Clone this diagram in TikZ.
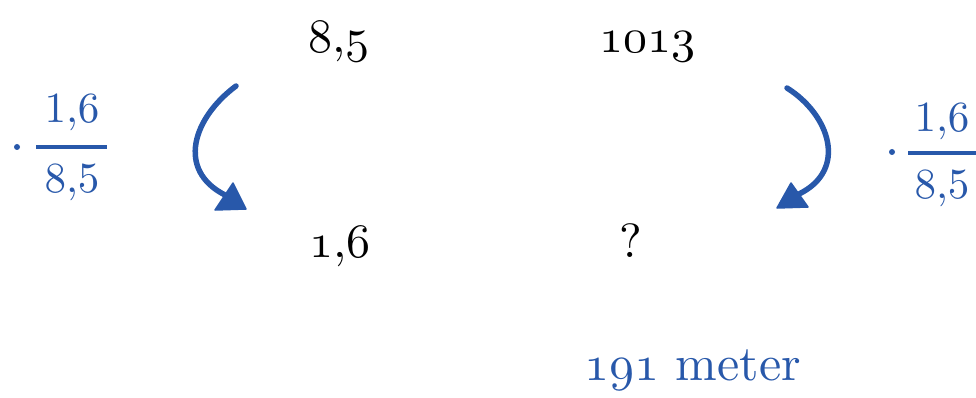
\documentclass[tikz,border=0pt]{standalone}
\usetikzlibrary{calc}
\definecolor{chalk}{RGB}{40,88,170}
\DeclareFontFamily{OML}{oscm}{}
\DeclareFontShape{OML}{oscm}{m}{it}{<-> cmmi10}{}
\DeclareFontFamily{OT1}{cmrx}{}
\DeclareFontShape{OT1}{cmrx}{m}{n}{<-> cmr10}{}
\newcommand{\rmx}{\fontencoding{OT1}\fontfamily{cmrx}\fontseries{m}\fontshape{n}\selectfont}
\tikzset{
  mainlbl/.style={anchor=base, inner sep=0pt, font=\fontsize{48}{50}\rmx},
  fraclbl/.style={anchor=base, inner sep=0pt, text=chalk, font=\fontsize{43}{45}\rmx},
  curvearrow/.style={draw=chalk, line width=5.5pt, line cap=round, line join=round},
  arrowhead/.style={fill=chalk, draw=chalk, line width=1.5pt, line join=round},
  fracbar/.style={draw=chalk, line width=4pt}
}
\newcommand{\osn}[1]{{\fontencoding{OML}\fontfamily{oscm}\fontseries{m}\fontshape{it}\selectfont #1}}
\begin{document}
\begin{tikzpicture}[x=1pt,y=-1pt]
\useasboundingbox (0,0) rectangle (976,398);
% main labels
\node[mainlbl] (a) at (339,53) {\osn{8},\osn{5}};
\node[mainlbl] (b) at (647,53) {\osn{1013}};
\node[mainlbl] (c) at (340,257) {\osn{1},\osn{6}};
\node[mainlbl] (d) at (631,257) {?};
\node[mainlbl, text=chalk, anchor=base west, font=\fontsize{50}{52}\rmx] (e) at (584,380) {\osn{191} meter};
% left fraction
\node[fraclbl] (ln) at (72,123) {1,6};
\node[fraclbl] (ld) at (72,193) {8,5};
\coordinate (lb1) at (36,147);
\coordinate (lb2) at (107,147);
\draw[fracbar] (lb1) -- (lb2);
\node[circle, fill=chalk, inner sep=0pt, minimum size=6pt] (ldot) at (17,147) {};
% right fraction
\node[fraclbl] (rn) at (942,132) {1,6};
\node[fraclbl] (rd) at (942,198) {8,5};
\coordinate (rb1) at (908,153);
\coordinate (rb2) at (976,153);
\draw[fracbar] (rb1) -- (rb2);
\node[circle, fill=chalk, inner sep=0pt, minimum size=6pt] (rdot) at (892,152) {};
% left arrow
\coordinate (ls) at (236,86);
\coordinate (le) at (225,195);
\draw[curvearrow] (ls) .. controls (193,118) and (176,170) .. (le);
\coordinate (lt1) at (233,183);
\coordinate (lt2) at (215,210);
\coordinate (lt3) at (246,209);
\filldraw[arrowhead] (lt1) -- (lt2) -- (lt3) -- cycle;
% right arrow
\coordinate (rs) at (787,88);
\coordinate (re) at (799,194);
\draw[curvearrow] (rs) .. controls (830,115) and (848,170) .. (re);
\coordinate (rt1) at (791,183);
\coordinate (rt2) at (777,208);
\coordinate (rt3) at (808,207);
\filldraw[arrowhead] (rt1) -- (rt2) -- (rt3) -- cycle;
\end{tikzpicture}
\end{document}
